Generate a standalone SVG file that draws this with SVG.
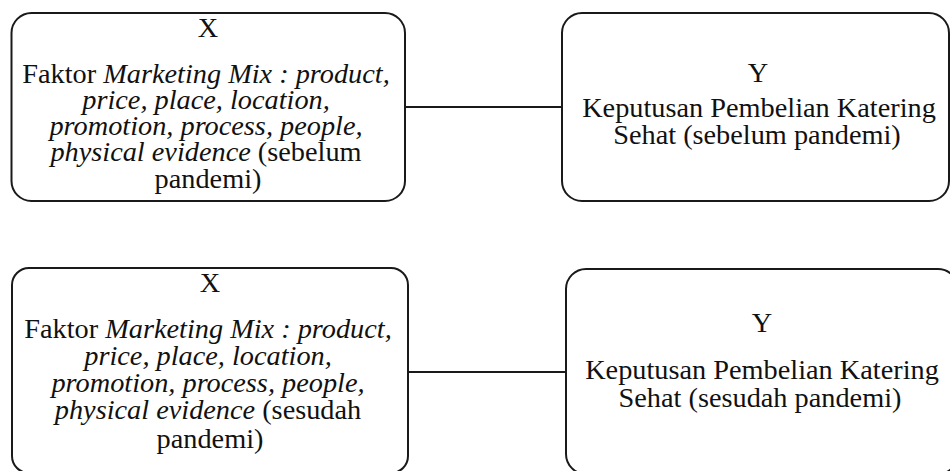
<svg xmlns="http://www.w3.org/2000/svg" width="950" height="471" viewBox="0 0 950 471">
<style>
.box{fill:#fff;stroke:#1a1a1a;stroke-width:2}
.con{stroke:#1a1a1a;stroke-width:2;fill:none}
.t{font-family:'Liberation Serif','Times New Roman',serif;font-size:28.3px;fill:#111;text-anchor:middle}
.i{font-style:italic}
</style>
<rect width="950" height="471" fill="#fff"/>
<g id="connectors">
<line class="con" x1="405" y1="107" x2="562" y2="107"/>
<line class="con" x1="408" y1="372" x2="566" y2="372"/>
</g>
<g id="x1" class="t">
<rect class="box" x="11.5" y="13" width="393.5" height="188" rx="20"/>
<text x="208" y="37">X</text>
<text x="206" y="83">Faktor <tspan class="i">Marketing Mix : product,</tspan></text>
<text x="206" y="109" class="i">price, place, location,</text>
<text x="206" y="135" class="i">promotion, process, people,</text>
<text x="206" y="161"><tspan class="i">physical evidence</tspan> (sebelum</text>
<text x="208" y="188">pandemi)</text>
</g>
<g id="y1" class="t">
<rect class="box" x="562" y="13" width="387" height="188" rx="20"/>
<text x="758" y="82">Y</text>
<text x="759" y="117">Keputusan Pembelian Katering</text>
<text x="757" y="144">Sehat (sebelum pandemi)</text>
</g>
<g id="x2" class="t">
<rect class="box" x="12" y="268" width="396" height="205" rx="17"/>
<text x="210" y="292">X</text>
<text x="208" y="338">Faktor <tspan class="i">Marketing Mix : product,</tspan></text>
<text x="208" y="365" class="i">price, place, location,</text>
<text x="208" y="392" class="i">promotion, process, people,</text>
<text x="208" y="419"><tspan class="i">physical evidence</tspan> (sesudah</text>
<text x="210" y="448">pandemi)</text>
</g>
<g id="y2" class="t">
<rect class="box" x="566" y="269" width="392" height="205" rx="20"/>
<text x="762" y="332">Y</text>
<text x="762" y="379">Keputusan Pembelian Katering</text>
<text x="760" y="407">Sehat (sesudah pandemi)</text>
</g>
</svg>
